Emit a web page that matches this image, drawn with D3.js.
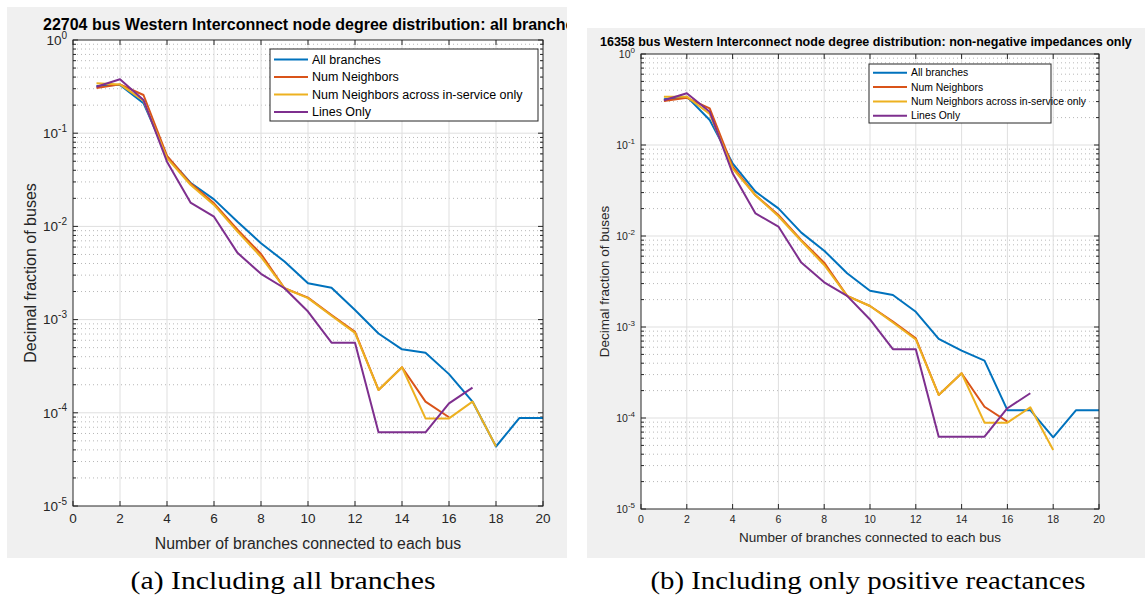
<!DOCTYPE html>
<html>
<head>
<meta charset="utf-8">
<script src="https://cdn.jsdelivr.net/npm/d3@7"></script>
<style>
  body { margin: 0; background: #fff; }
  svg { display: block; font-family: "Liberation Sans", Arial, sans-serif; }
</style>
</head>
<body>
<svg id="chart" width="1145" height="599"></svg>
<script>
// node degree (x) shared by every series, series just stop early when shorter
const degrees = [1, 2, 3, 4, 5, 6, 7, 8, 9, 10, 11, 12, 13, 14, 15, 16, 17, 18, 19, 20];
const seriesNames = ["All branches", "Num Neighbors", "Num Neighbors across in-service only", "Lines Only"];
const seriesColors = ["#0072bd", "#d95319", "#edb120", "#7e2f8e"];

// (a) all branches, 22704 buses
const aAll = [0.32, 0.33, 0.21, 0.056, 0.0294, 0.0195, 0.0112, 0.0066, 0.0042, 0.00245, 0.0022, 0.00127, 0.00071, 0.00048, 0.00044, 0.00026, 0.000132, 0.0000435, 0.000088, 0.000088];
const aNum = [0.305, 0.334, 0.257, 0.057, 0.029, 0.0177, 0.0092, 0.00506, 0.00217, 0.00172, 0.00112, 0.00074, 0.000176, 0.000308, 0.000132, 0.0000895];
const aSvc = [0.343, 0.334, 0.224, 0.054, 0.028, 0.017, 0.0088, 0.0047, 0.00217, 0.0017, 0.0011, 0.00072, 0.000176, 0.000308, 0.000087, 0.000087, 0.000132, 0.0000435];
const aLines = [0.315, 0.379, 0.227, 0.0495, 0.018, 0.0127, 0.0052, 0.0031, 0.00217, 0.00122, 0.000566, 0.000566, 0.0000617, 0.0000617, 0.0000617, 0.000126, 0.000186];

// (b) non-negative impedances, 16358 buses
const bAll = [0.318, 0.34, 0.188, 0.063, 0.0307, 0.0201, 0.0109, 0.0069, 0.0039, 0.0025, 0.00225, 0.00147, 0.00074, 0.00055, 0.000427, 0.000122, 0.000122, 0.0000614, 0.000122, 0.000122];
const bNum = [0.305, 0.33, 0.253, 0.058, 0.028, 0.017, 0.009, 0.0051, 0.0022, 0.0017, 0.00115, 0.00075, 0.000179, 0.00031, 0.000133, 0.0000912];
const bSvc = [0.34, 0.34, 0.219, 0.055, 0.028, 0.0165, 0.0088, 0.0048, 0.0022, 0.0017, 0.00112, 0.00073, 0.000179, 0.00031, 0.0000889, 0.0000889, 0.000131, 0.0000445];
const bLines = [0.31, 0.37, 0.232, 0.0489, 0.0177, 0.0127, 0.0051, 0.0031, 0.0022, 0.00121, 0.00057, 0.00057, 0.0000623, 0.0000623, 0.0000623, 0.000128, 0.000187];

const xTicks = [0, 2, 4, 6, 8, 10, 12, 14, 16, 18, 20];
const yExponents = [0, -1, -2, -3, -4, -5];
const xLabel = "Number of branches connected to each bus";
const yLabel = "Decimal fraction of buses";

const svg = d3.select("#chart");

const panels = [
  {
    id: "a",
    title: "22704 bus Western Interconnect node degree distribution: all branches",
    caption: "(a) Including all branches",
    series: [aAll, aNum, aSvc, aLines],
    bg: { x: 7, y: 7, w: 560, h: 551 },
    plot: { l: 73, t: 40, r: 543, b: 506 },
    titleX: 43, titleY: 30, titleSize: 16,
    tickSize: 13.5, supSize: 10, xLabelSize: 15.8, xLabelY: 549, yLabelSize: 16, yLabelX: 30,
    legend: { x: 270, y: 49, w: 268, h: 72, row: 17.5, size: 12.5 },
    captionX: 283, captionW: 305
  },
  {
    id: "b",
    title: "16358 bus Western Interconnect node degree distribution: non-negative impedances only",
    caption: "(b) Including only positive reactances",
    series: [bAll, bNum, bSvc, bLines],
    bg: { x: 587, y: 28, w: 558, h: 530 },
    plot: { l: 641, t: 54, r: 1099, b: 509 },
    titleX: 600, titleY: 45.5, titleSize: 12.5,
    tickSize: 10.5, supSize: 8, xLabelSize: 13.5, xLabelY: 542, yLabelSize: 13.5, yLabelX: 604,
    legend: { x: 869, y: 64, w: 182, h: 59, row: 14.4, size: 10.4 },
    captionX: 868, captionW: 435
  }
];

panels.forEach(p => {
  const g = svg.append("g");

  g.append("clipPath").attr("id", "clip-" + p.id)
    .append("rect").attr("x", p.bg.x).attr("y", p.bg.y).attr("width", p.bg.w).attr("height", p.bg.h);

  g.append("rect")
    .attr("x", p.bg.x).attr("y", p.bg.y).attr("width", p.bg.w).attr("height", p.bg.h)
    .attr("fill", "#f0f0f0");

  const x = d3.scaleLinear().domain([0, 20]).range([p.plot.l, p.plot.r]);
  const y = d3.scaleLog().domain([1e-5, 1]).range([p.plot.b, p.plot.t]);

  g.append("rect")
    .attr("x", p.plot.l).attr("y", p.plot.t)
    .attr("width", p.plot.r - p.plot.l).attr("height", p.plot.b - p.plot.t)
    .attr("fill", "#fff");

  // minor log grid (dotted)
  const minors = [];
  yExponents.slice(1).forEach(e => {
    for (let m = 2; m <= 9; m++) minors.push(m * Math.pow(10, e));
  });
  g.append("g").selectAll("line").data(minors).join("line")
    .attr("x1", p.plot.l).attr("x2", p.plot.r)
    .attr("y1", d => y(d)).attr("y2", d => y(d))
    .attr("stroke", "#b8b8b8").attr("stroke-width", 1)
    .attr("stroke-dasharray", "1,3");

  // major grid
  g.append("g").selectAll("line").data(yExponents.slice(1, -1)).join("line")
    .attr("x1", p.plot.l).attr("x2", p.plot.r)
    .attr("y1", d => y(Math.pow(10, d))).attr("y2", d => y(Math.pow(10, d)))
    .attr("stroke", "#dfdfdf");
  g.append("g").selectAll("line").data(xTicks.slice(1, -1)).join("line")
    .attr("x1", d => x(d)).attr("x2", d => x(d))
    .attr("y1", p.plot.t).attr("y2", p.plot.b)
    .attr("stroke", "#dfdfdf");

  // ticks, inward on all four sides
  const tk = g.append("g").attr("stroke", "#262626");
  xTicks.forEach(d => {
    tk.append("line").attr("x1", x(d)).attr("x2", x(d)).attr("y1", p.plot.b).attr("y2", p.plot.b - 5);
    tk.append("line").attr("x1", x(d)).attr("x2", x(d)).attr("y1", p.plot.t).attr("y2", p.plot.t + 5);
  });
  yExponents.forEach(e => {
    const yy = y(Math.pow(10, e));
    tk.append("line").attr("x1", p.plot.l).attr("x2", p.plot.l + 5).attr("y1", yy).attr("y2", yy);
    tk.append("line").attr("x1", p.plot.r).attr("x2", p.plot.r - 5).attr("y1", yy).attr("y2", yy);
  });
  minors.forEach(d => {
    tk.append("line").attr("x1", p.plot.l).attr("x2", p.plot.l + 3).attr("y1", y(d)).attr("y2", y(d));
    tk.append("line").attr("x1", p.plot.r).attr("x2", p.plot.r - 3).attr("y1", y(d)).attr("y2", y(d));
  });

  // series lines
  const line = d3.line()
    .x((d, i) => x(degrees[i]))
    .y(d => y(d));
  g.append("g").selectAll("path").data(p.series).join("path")
    .attr("d", line)
    .attr("fill", "none")
    .attr("stroke", (d, i) => seriesColors[i])
    .attr("stroke-width", 2)
    .attr("stroke-linejoin", "round");

  // axes box
  g.append("rect")
    .attr("x", p.plot.l).attr("y", p.plot.t)
    .attr("width", p.plot.r - p.plot.l).attr("height", p.plot.b - p.plot.t)
    .attr("fill", "none").attr("stroke", "#262626");

  // tick labels
  g.append("g").selectAll("text").data(xTicks).join("text")
    .attr("x", d => x(d)).attr("y", p.plot.b + p.tickSize + 3)
    .attr("text-anchor", "middle")
    .attr("font-size", p.tickSize).attr("fill", "#262626")
    .text(d => d);

  const yl = g.append("g").selectAll("text").data(yExponents).join("text")
    .attr("x", p.plot.l - 6).attr("y", d => y(Math.pow(10, d)) + p.tickSize * 0.35)
    .attr("text-anchor", "end")
    .attr("font-size", p.tickSize).attr("fill", "#262626");
  yl.append("tspan").text("10");
  yl.append("tspan").attr("dy", -p.tickSize * 0.45).attr("font-size", p.supSize).text(d => d);

  // axis labels
  g.append("text")
    .attr("x", (p.plot.l + p.plot.r) / 2).attr("y", p.xLabelY)
    .attr("text-anchor", "middle").attr("font-size", p.xLabelSize).attr("fill", "#262626")
    .text(xLabel);
  g.append("text")
    .attr("transform", `translate(${p.yLabelX},${(p.plot.t + p.plot.b) / 2}) rotate(-90)`)
    .attr("dy", "0.35em")
    .attr("text-anchor", "middle").attr("font-size", p.yLabelSize).attr("fill", "#262626")
    .text(yLabel);

  // title, clipped at the figure edge like the screenshot
  g.append("text")
    .attr("clip-path", `url(#clip-${p.id})`)
    .attr("x", p.titleX).attr("y", p.titleY)
    .attr("font-size", p.titleSize).attr("font-weight", "bold").attr("fill", "#000")
    .text(p.title);

  // legend
  const L = p.legend;
  const lg = g.append("g");
  lg.append("rect").attr("x", L.x).attr("y", L.y).attr("width", L.w).attr("height", L.h)
    .attr("fill", "#fff").attr("stroke", "#262626");
  seriesNames.forEach((name, i) => {
    const cy = L.y + L.row * (i + 0.6);
    lg.append("line")
      .attr("x1", L.x + 4).attr("x2", L.x + 38).attr("y1", cy).attr("y2", cy)
      .attr("stroke", seriesColors[i]).attr("stroke-width", 2);
    lg.append("text")
      .attr("x", L.x + 42).attr("y", cy).attr("dy", "0.35em")
      .attr("font-size", L.size).attr("fill", "#000")
      .text(name);
  });

  // sub-figure caption
  svg.append("text")
    .attr("x", p.captionX).attr("y", 589)
    .attr("text-anchor", "middle")
    .attr("font-family", "'Liberation Serif', 'DejaVu Serif', serif")
    .attr("font-size", 25)
    .attr("textLength", p.captionW).attr("lengthAdjust", "spacingAndGlyphs")
    .text(p.caption);
});
</script>
</body>
</html>
